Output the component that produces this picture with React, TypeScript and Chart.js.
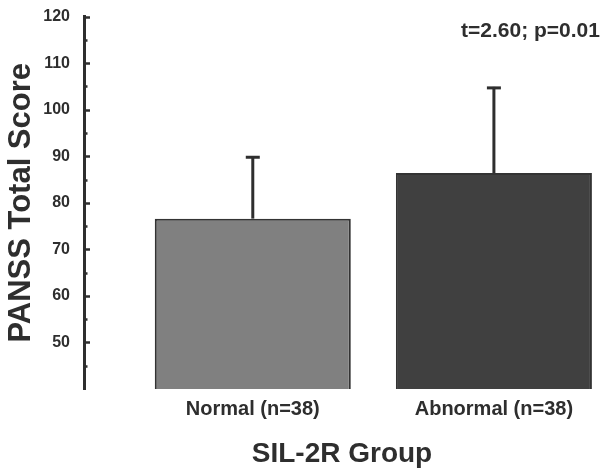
import React, { useEffect, useRef } from "react";
import { Chart, registerables } from "chart.js";

Chart.register(...registerables);

// Group means and upper standard deviations for PANSS total score
const groups = ["Normal (n=38)", "Abnormal (n=38)"];
const means = [76.6, 86.4];
const sds = [13.4, 18.5];
const barColors = ["#808080", "#404040"];
const statText = "t=2.60; p=0.01";

const FONT = "'Liberation Sans', Arial, sans-serif";
const INK = "#2e2e2e";

// Upper error whiskers with a flat cap
const errorBars = {
  id: "errorBars",
  afterDatasetsDraw(chart: any) {
    const { ctx } = chart;
    const y = chart.scales.y;
    const meta = chart.getDatasetMeta(0);
    ctx.save();
    ctx.strokeStyle = INK;
    ctx.lineWidth = 3;
    meta.data.forEach((bar: any, i: number) => {
      const top = y.getPixelForValue(means[i] + sds[i]);
      ctx.beginPath();
      ctx.moveTo(bar.x, bar.y);
      ctx.lineTo(bar.x, top);
      ctx.stroke();
      ctx.beginPath();
      ctx.moveTo(bar.x - 7, top + 1);
      ctx.lineTo(bar.x + 7, top + 1);
      ctx.stroke();
    });
    ctx.restore();
  },
};

// Inward tick marks on the value axis: long at every 10, short in between
const innerTicks = {
  id: "innerTicks",
  afterDraw(chart: any) {
    const { ctx, chartArea } = chart;
    const y = chart.scales.y;
    ctx.save();
    ctx.strokeStyle = INK;
    ctx.lineWidth = 2.5;
    y.ticks.forEach((t: any) => {
      if (t.value <= y.min) return;
      const major = t.value % 10 === 0;
      const py = Math.round(y.getPixelForValue(t.value)) + 0.5;
      ctx.beginPath();
      ctx.moveTo(chartArea.left, py);
      ctx.lineTo(chartArea.left + (major ? 6 : 3.5), py);
      ctx.stroke();
    });
    ctx.restore();
  },
};

// Test statistic in the upper right corner
const statLabel = {
  id: "statLabel",
  afterDraw(chart: any) {
    const { ctx } = chart;
    ctx.save();
    ctx.fillStyle = INK;
    ctx.font = `bold 21px ${FONT}`;
    ctx.textAlign = "left";
    ctx.textBaseline = "alphabetic";
    ctx.fillText(statText, 461, 37);
    ctx.restore();
  },
};

export default function App() {
  const ref = useRef<HTMLCanvasElement>(null);

  useEffect(() => {
    document.body.style.margin = "0";
    const chart = new Chart(ref.current!, {
      type: "bar",
      data: {
        datasets: [
          {
            data: means.map((m, i) => ({ x: i + 1, y: m })),
            backgroundColor: barColors,
            borderColor: "#333333",
            borderWidth: 2,
            borderSkipped: false,
            barPercentage: 0.813,
            categoryPercentage: 1,
          },
        ],
      },
      options: {
        animation: false,
        responsive: false,
        events: [],
        layout: { padding: { top: 8, right: 7, bottom: 0, left: 0 } },
        plugins: {
          legend: { display: false },
          tooltip: { enabled: false },
        },
        scales: {
          x: {
            type: "linear",
            offset: false,
            min: 0.3,
            max: 2.44,
            afterBuildTicks: (s: any) => {
              s.ticks = groups.map((_, i) => ({ value: i + 1 }));
            },
            afterFit: (s: any) => {
              s.height = 82;
            },
            grid: { display: false },
            border: { display: false },
            ticks: {
              padding: 0,
              color: INK,
              font: { family: FONT, size: 20, weight: "bold" },
              callback: (v: any) => groups[Number(v) - 1] ?? "",
            },
            title: {
              display: true,
              text: "SIL-2R Group",
              color: INK,
              padding: { top: 0, bottom: 0 },
              font: { family: FONT, size: 28, weight: "bold" },
            },
          },
          y: {
            min: 40,
            max: 120,
            afterFit: (s: any) => {
              s.width = 84;
            },
            grid: {
              display: true,
              drawOnChartArea: false,
              drawTicks: true,
              tickLength: 7,
              color: "rgba(0,0,0,0)",
              tickColor: "rgba(0,0,0,0)",
            },
            border: { display: true, color: INK, width: 3 },
            ticks: {
              stepSize: 5,
              padding: 7,
              color: INK,
              font: { family: FONT, size: 16, weight: "bold" },
              callback: (v: any) => (Number(v) % 10 === 0 && Number(v) >= 50 ? String(v) : ""),
            },
            title: {
              display: true,
              text: "PANSS Total Score",
              color: INK,
              padding: { top: 3, bottom: 0 },
              font: { family: FONT, size: 31, weight: "bold" },
            },
          },
        },
      },
      plugins: [errorBars, innerTicks, statLabel],
    });
    return () => chart.destroy();
  }, []);

  return (
    <div style={{ width: 607, height: 471, background: "#ffffff" }}>
      <canvas ref={ref} width={607} height={471} />
    </div>
  );
}
